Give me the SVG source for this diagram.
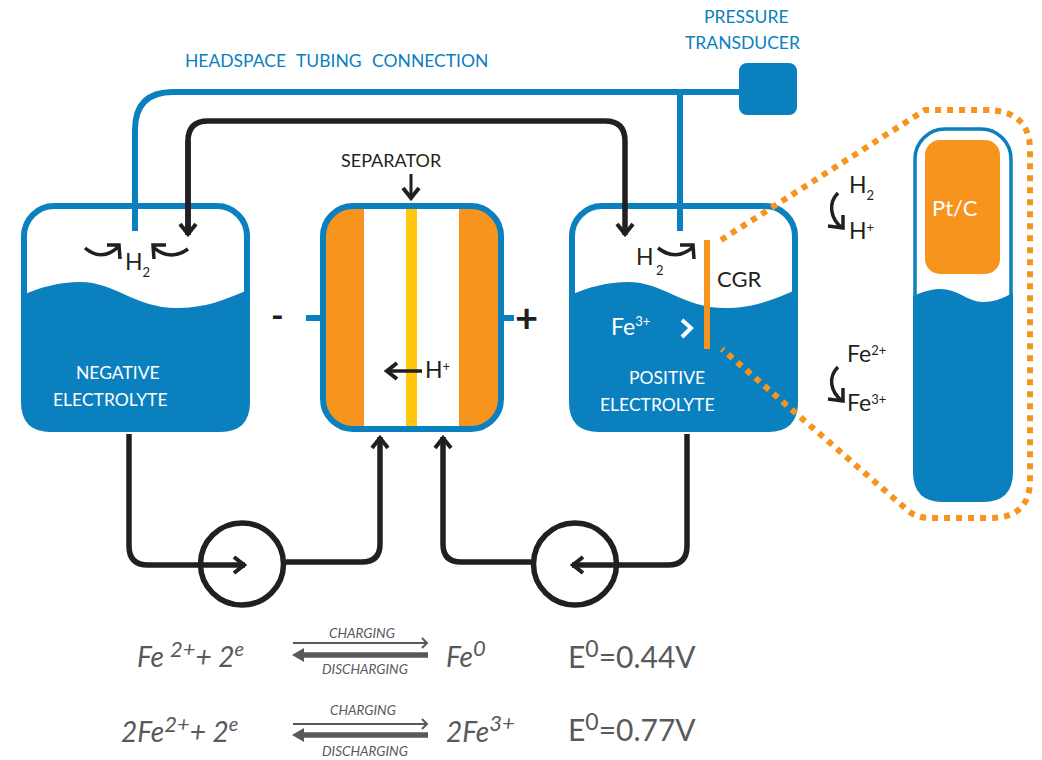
<svg xmlns="http://www.w3.org/2000/svg" width="1042" height="760" viewBox="0 0 1042 760">
<style>
text{font-family:"Lato","Liberation Sans",sans-serif;fill:#231f20}
.w{fill:#fff}.b{fill:#0b80bf}.g{fill:#58595b}
.i{font-style:italic;fill:#58595b}
.eq{font-size:28px}.sm{font-size:13.5px}.lb{font-size:17.5px}.ion{font-size:23px}
.pb{fill:none;stroke:#0b80bf;stroke-width:6}
.pk{fill:none;stroke:#231f20;stroke-width:5.5;stroke-linejoin:round}
.tk{fill:#fff;stroke:#0b80bf;stroke-width:6}
.pump{fill:none;stroke:#231f20;stroke-width:5.5}
.cv{fill:none;stroke:#231f20;stroke-width:3.5}
.th{fill:none;stroke:#58595b;stroke-width:2}
.tc{fill:none;stroke:#58595b;stroke-width:5.5}
.o{fill:#f7941e}
</style>
<defs>
<marker id="head" markerUnits="userSpaceOnUse" viewBox="-14 -10 16 20" markerWidth="16" markerHeight="20" refX="0" refY="0" orient="auto"><path d="M-11,-8 L-1,0 L-11,8" fill="none" stroke="#231f20" stroke-width="4"/></marker>
<marker id="thin" markerUnits="userSpaceOnUse" viewBox="-10 -8 12 16" markerWidth="12" markerHeight="16" refX="0" refY="0" orient="auto"><path d="M-5,-5 L0,0 L-5,5" fill="none" stroke="#58595b" stroke-width="2"/></marker>
<path id="water" d="M21,296 C40,287 60,282 80,282 C115,282 135,308 177,308 C205,308 225,300 250,289 L250,402 Q250,432 220,432 L51,432 Q21,432 21,402 Z" fill="#0b80bf"/>
</defs>

<g id="negative-tank">
<rect class="tk" x="24" y="206" width="223" height="223" rx="30"/>
<use href="#water"/>
<text class="w lb" x="76" y="379">NEGATIVE</text>
<text class="w lb" x="53" y="406">ELECTROLYTE</text>
<path class="cv" d="M85,248 Q102,262 118,247 M107,245 L119,245 L120,259"/>
<path class="cv" d="M188,249 Q170,262 153,247 M166,245 L153,245 L154,259"/>
<text class="ion" x="125" y="270">H<tspan font-size="13" dy="7">2</tspan></text>
</g>

<g id="cell">
<rect x="323" y="206" width="178" height="223" rx="30" fill="#fff"/>
<path class="o" d="M364,206 H350 Q323,206 323,236 V399 Q323,429 350,429 H364 Z"/>
<path class="o" d="M459,206 H474 Q501,206 501,236 V399 Q501,429 474,429 H459 Z"/>
<rect x="406" y="206" width="11" height="223" fill="#ffc60b"/>
<rect x="323" y="206" width="178" height="223" rx="30" fill="none" stroke="#0b80bf" stroke-width="6"/>
<path class="pb" d="M306,318 H320 M498,318 H514"/>
<text x="341" y="167" font-size="18">SEPARATOR</text>
<path d="M411,174 V199" fill="none" stroke="#231f20" stroke-width="3" marker-end="url(#head)"/>
<path d="M422,371 H386" fill="none" stroke="#231f20" stroke-width="3.5" marker-end="url(#head)"/>
<text class="ion" x="425" y="378">H<tspan font-size="13" dy="-7">+</tspan></text>
<text x="271" y="328" font-size="34" font-weight="700">-</text>
<text x="515" y="332" font-size="40" font-weight="700">+</text>
</g>

<g id="positive-tank">
<rect class="tk" x="572" y="206" width="223" height="223" rx="30"/>
<use href="#water" x="548"/>
<rect class="o" x="704" y="240" width="6" height="109"/>
<text x="717" y="287" font-size="22">CGR</text>
<text class="ion w" x="611" y="335">Fe<tspan font-size="13" dy="-9">3+</tspan></text>
<path d="M682,320 L691,328 L682,337" fill="none" stroke="#fff" stroke-width="4"/>
<text class="w lb" x="629" y="384">POSITIVE</text>
<text class="w lb" x="600" y="411">ELECTROLYTE</text>
<text class="ion" x="636" y="265">H</text>
<text x="656" y="275" font-size="13">2</text>
<path class="cv" d="M658,248 Q676,262 693,247 M680,245 L693,245 L694,259"/>
</g>

<g id="transducer">
<rect class="b" x="739" y="63" width="58" height="52" rx="8"/>
<text class="b lb" x="704" y="23">PRESSURE</text>
<text class="b lb" x="685" y="49">TRANSDUCER</text>
</g>

<text class="b lb" x="185" y="67" word-spacing="6">HEADSPACE TUBING CONNECTION</text>

<g id="connectors">
<path class="pb" d="M135,231 V130 Q135,92 173,92 H740"/>
<path class="pb" d="M680,92 V231"/>
<path class="pk" d="M188,235 V141 Q188,121 208,121 H605 Q625,121 625,141 V235" marker-end="url(#head)"/>
<path class="pk" d="M188,141 V235" marker-end="url(#head)"/>
<path class="pk" d="M129,434 V546 Q129,565 148,565 H245" marker-end="url(#head)"/>
<path class="pk" d="M286,562 H362 Q380,562 380,544 V437" marker-end="url(#head)"/>
<path class="pk" d="M531,562 H461 Q443,562 443,544 V437" marker-end="url(#head)"/>
<path class="pk" d="M687,434 V546 Q687,565 668,565 H572" marker-end="url(#head)"/>
</g>

<g id="pump-1"><ellipse class="pump" cx="242" cy="564" rx="41.5" ry="41"/></g>
<g id="pump-2"><ellipse class="pump" cx="575" cy="564" rx="41.5" ry="41"/></g>

<g id="inset">
<path d="M721,240 L925,110 H985 Q1030,110 1030,150 V480 Q1030,518 990,518 H930 Q915,518 905,508 L722,349" fill="none" stroke="#f7941e" stroke-width="6" stroke-dasharray="6 6"/>
<rect x="915" y="129" width="96" height="371" rx="30" fill="#fff" stroke="#0b80bf" stroke-width="3.5"/>
<rect class="o" x="925" y="140" width="75" height="134" rx="15"/>
<path class="b" d="M913,296 C925,291 932,289 940,289 C958,289 968,302 983,302 C995,302 1003,298 1013,293 V472 Q1013,502 983,502 H943 Q913,502 913,472 Z"/>
<text class="w" x="932" y="216" font-size="22">Pt/C</text>
<text class="ion" x="849" y="193">H<tspan font-size="13" dy="7">2</tspan></text>
<text class="ion" x="849" y="239">H<tspan font-size="13" dy="-7">+</tspan></text>
<text class="ion" x="847" y="362">Fe<tspan font-size="13" dy="-7">2+</tspan></text>
<text class="ion" x="847" y="411">Fe<tspan font-size="13" dy="-7">3+</tspan></text>
<path d="M838,193 C828,203 830,218 842,228 M828,226 L843,228 L843,215" fill="none" stroke="#231f20" stroke-width="3.5"/>
<path d="M838,367 C828,377 830,391 842,401 M828,399 L843,401 L843,388" fill="none" stroke="#231f20" stroke-width="3.5"/>
</g>

<g id="equations">
<text class="i eq" x="137" y="667">Fe<tspan dx="6" dy="-10" font-size="22">2+</tspan><tspan dy="10">+ 2</tspan><tspan dy="-11" font-size="20">e</tspan></text>
<text class="i sm" x="329" y="638">CHARGING</text>
<text class="i sm" x="322" y="674">DISCHARGING</text>
<path class="th" d="M293,643 H427" marker-end="url(#thin)"/>
<path class="tc" d="M428,655 H300"/>
<path d="M304,648 L292,655 L304,662 Z" fill="#58595b"/>
<text class="i eq" x="446" y="667">Fe<tspan dy="-11" font-size="22">0</tspan></text>
<text class="g" x="568" y="668" font-size="30">E<tspan dy="-11" font-size="23">0</tspan><tspan dy="11">=0.44V</tspan></text>

<text class="i eq" x="121" y="742">2Fe<tspan dy="-10" font-size="22">2+</tspan><tspan dy="10">+ 2</tspan><tspan dy="-11" font-size="20">e</tspan></text>
<text class="i sm" x="330" y="715">CHARGING</text>
<text class="i sm" x="322" y="756">DISCHARGING</text>
<path class="th" d="M293,724 H427" marker-end="url(#thin)"/>
<path class="tc" d="M428,735 H300"/>
<path d="M304,728 L292,735 L304,742 Z" fill="#58595b"/>
<text class="i eq" x="446" y="742">2Fe<tspan dy="-11" font-size="22">3+</tspan></text>
<text class="g" x="568" y="741" font-size="30">E<tspan dy="-11" font-size="23">0</tspan><tspan dy="11">=0.77V</tspan></text>
</g>
</svg>
